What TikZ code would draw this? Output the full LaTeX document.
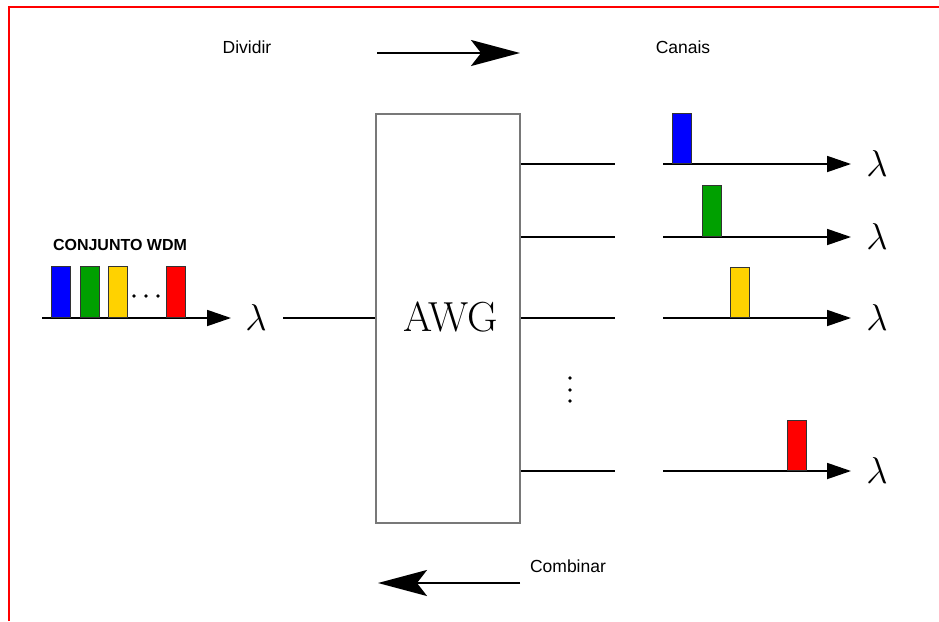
\documentclass[tikz,border=0pt]{standalone}
\usepackage{fontspec}
\setsansfont{Liberation Sans}
\usetikzlibrary{arrows.meta}
\definecolor{pblue}{RGB}{0,0,255}
\definecolor{pgreen}{RGB}{0,160,0}
\definecolor{pyellow}{RGB}{255,210,0}
\definecolor{pred}{RGB}{255,0,0}
\definecolor{boxgray}{RGB}{120,120,120}
\newcommand{\biglam}{\scalebox{1.8}{\fontsize{20}{24}\selectfont$\lambda$}}
\begin{document}
\begin{tikzpicture}[x=1pt,y=-1pt,
  lbl/.style={font=\sffamily\fontsize{17.5}{20}\selectfont, inner sep=0pt},
  lam/.style={inner sep=0pt},
  wire/.style={line width=1.8pt, black},
  axis/.style={line width=1.8pt, black, -{Triangle[length=24pt,width=16pt]}},
  bigarrow/.style={line width=2.2pt, black, -{Stealth[length=49pt,width=26pt,inset=10pt]}},
  pulse/.style={draw=black!80, line width=0.8pt, minimum width=19pt, inner sep=0pt, anchor=south},
  dotmark/.style={circle, fill=black, inner sep=0pt, minimum size=3.6pt},
  awgbox/.style={draw=boxgray, line width=1.5pt, minimum width=144pt, minimum height=409pt, inner sep=0pt}
]
\useasboundingbox (0,0) rectangle (939,621);
\fill[white] (0,0) rectangle (939,621);
% red frame
\draw[pred, line width=2.5pt] (9,621) -- (9,7) -- (939,7);

% AWG box
\node[awgbox] (awg) at (448,318.5) {};
\node[font=\fontsize{42}{46}\selectfont, inner sep=0pt] (awgtxt) at (451,317) {AWG};

% labels
\node[lbl] (div) at (247,47) {Dividir};
\node[lbl] (can) at (683,47) {Canais};
\node[lbl] (comb) at (568,566) {Combinar};
\node[lbl, font=\sffamily\bfseries\fontsize{16}{18}\selectfont] (wdm) at (120,245) {CONJUNTO WDM};

% big direction arrows
\coordinate (da1) at (377,53);
\coordinate (da2) at (520,53);
\draw[bigarrow] (da1) -- (da2);
\coordinate (ca1) at (520,583);
\coordinate (ca2) at (378,583);
\draw[bigarrow] (ca1) -- (ca2);

% input axis
\coordinate (ia0) at (42,318);
\coordinate (ia1) at (231,318);
\draw[axis] (ia0) -- (ia1);
\node[lam] (lin) at (256,318) {\biglam};
\node[pulse, fill=pblue, minimum height=51pt] (ib) at (61,318) {};
\node[pulse, fill=pgreen, minimum height=51pt] (ig) at (89.5,318) {};
\node[pulse, fill=pyellow, minimum height=51pt] (iy) at (117.5,318) {};
\node[pulse, fill=pred, minimum height=51pt] (ir) at (175.5,318) {};
\foreach \i/\x in {1/134,2/146,3/158}{
  \node[dotmark] (hd\i) at (\x,296) {};
}

% input wire
\coordinate (inw) at (283,318);
\draw[wire] (inw) -- (awg.west |- inw);

% outputs
\foreach \n/\y in {1/164,2/237,3/318,4/471}{
  \coordinate (o\n) at (615,\y);
  \draw[wire] (awg.east |- o\n) -- (o\n);
  \coordinate (a\n) at (663,\y);
  \coordinate (b\n) at (851,\y);
  \draw[axis] (a\n) -- (b\n);
  \node[lam] (l\n) at (877,\y) {\biglam};
}
\node[pulse, fill=pblue, minimum height=50pt] (pb) at (681.5,164) {};
\node[pulse, fill=pgreen, minimum height=51pt] (pg) at (711.5,237) {};
\node[pulse, fill=pyellow, minimum height=50pt] (py) at (740,318) {};
\node[pulse, fill=pred, minimum height=50pt] (pr) at (797,471) {};

\foreach \i/\y in {1/378,2/390,3/401}{
  \node[dotmark] (vd\i) at (570,\y) {};
}
\end{tikzpicture}
\end{document}
